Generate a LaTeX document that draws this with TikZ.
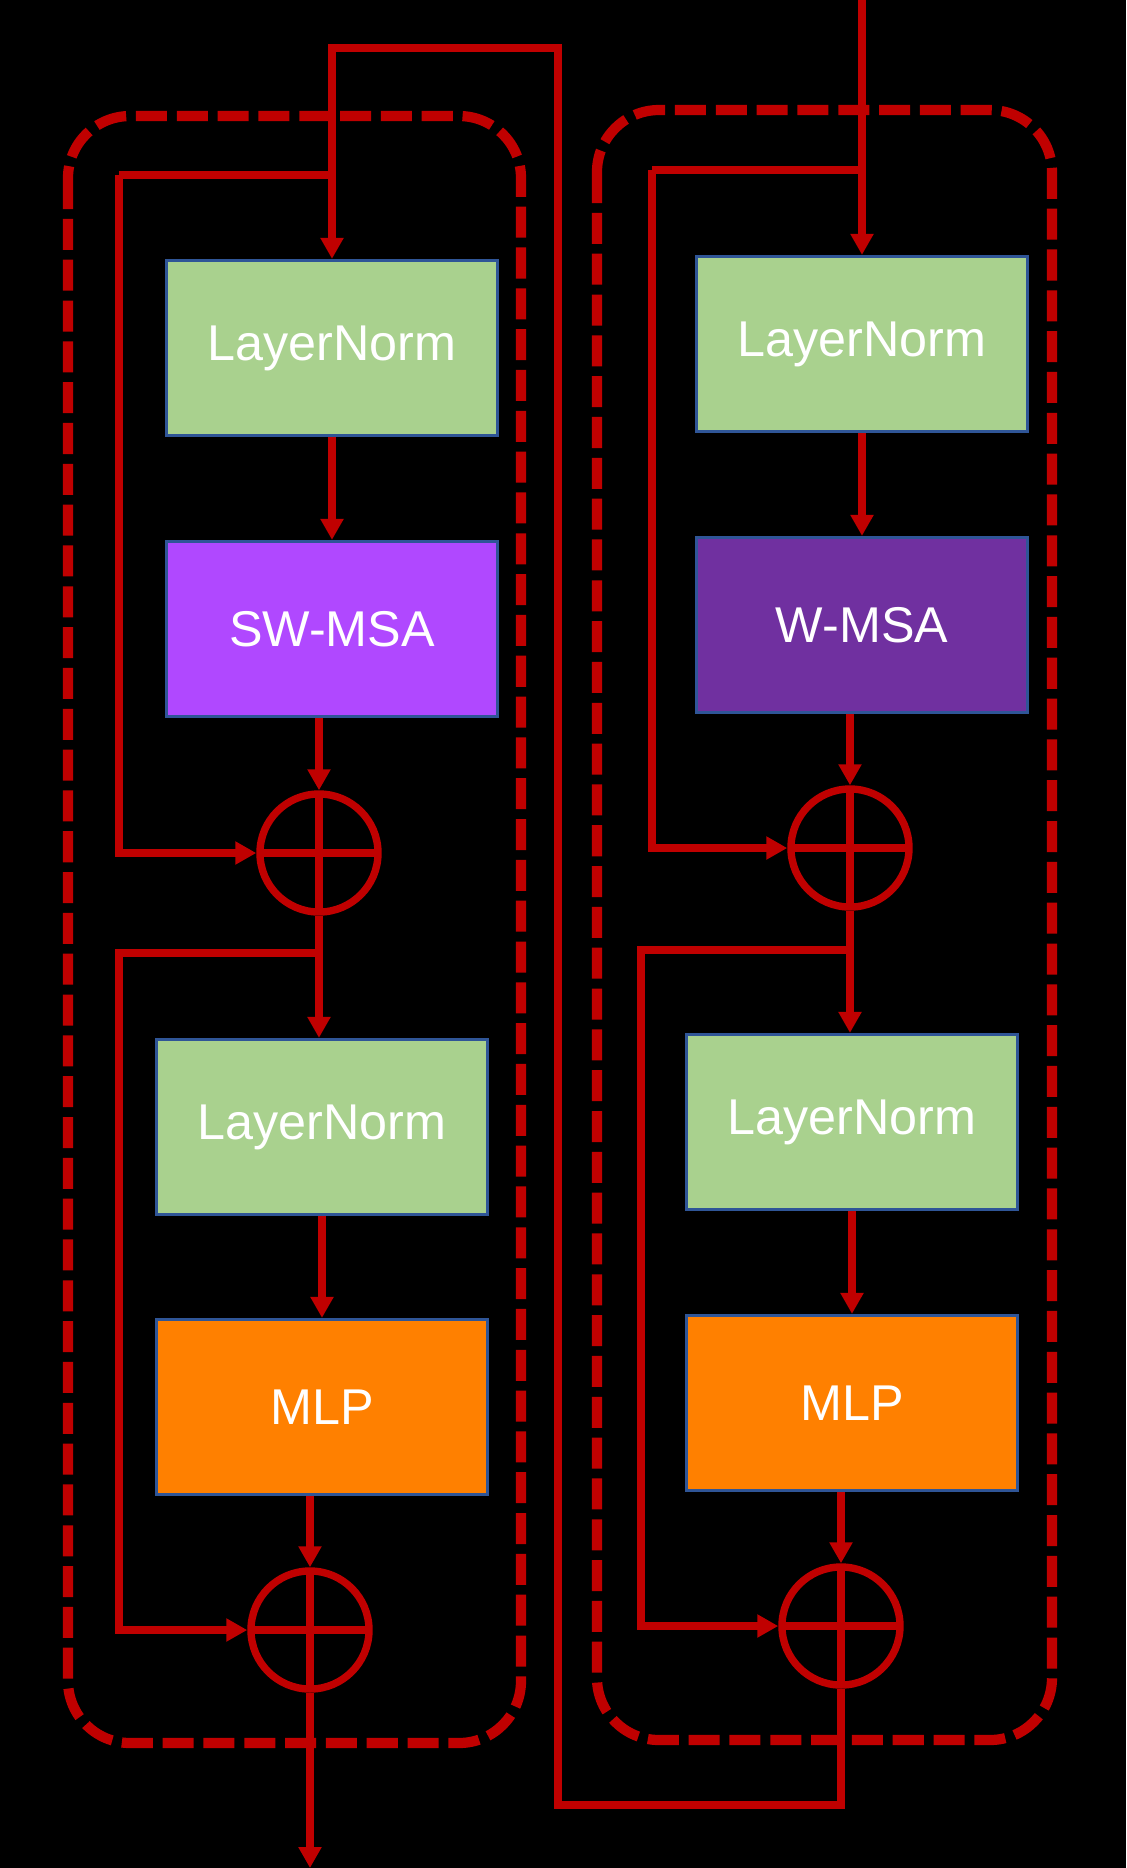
\documentclass[tikz,border=0pt]{standalone}
\usepackage{xcolor}
\usepackage{fontspec}
\setmainfont{Liberation Sans}
\usepackage{tikz}
\usetikzlibrary{arrows.meta}
\definecolor{LinkRed}{HTML}{C00000}
\definecolor{NormGreen}{HTML}{A9D18E}
\definecolor{ShiftPurple}{HTML}{B048FF}
\definecolor{WindowPurple}{HTML}{7030A0}
\definecolor{MlpOrange}{HTML}{FF8000}
\definecolor{EdgeBlue}{HTML}{2F5597}

\begin{document}
\begin{tikzpicture}[x=0.01cm,y=-0.01cm,
  blockbox/.style={draw=EdgeBlue,line width=0.9pt,minimum width=3.31cm,minimum height=1.75cm,
    inner sep=0pt,text=white,font=\fontsize{14.3}{17}\selectfont},
  addnode/.style={circle,draw=LinkRed,line width=2.1pt,minimum size=1.18cm,inner sep=0pt,
    path picture={\draw[LinkRed,line width=2.1pt]
      (path picture bounding box.north) -- (path picture bounding box.south)
      (path picture bounding box.west) -- (path picture bounding box.east);}},
  link/.style={draw=LinkRed,line width=2.1pt},
  linkarrow/.style={link,-{Triangle[length=0.21cm,width=0.22cm]}},
  blockframe/.style={draw=LinkRed,line width=2.9pt,dash pattern=on 0.31cm off 0.098cm,rounded corners=0.62cm}]
  \useasboundingbox (0,0) rectangle (1126,1868);
  \fill[black] (0,0) rectangle (1126,1868);

  % dashed block frames
  \draw[blockframe] (68,116) rectangle (521,1743);
  \draw[blockframe] (597,110) rectangle (1052,1740);

  % W-MSA block (right)
  \node[blockbox,fill=NormGreen] (lnW1) at (862,344) {LayerNorm};
  \node[blockbox,fill=WindowPurple] (wmsa) at (862,625) {W-MSA};
  \node[addnode] (addW1) at (850,848) {};
  \node[blockbox,fill=NormGreen] (lnW2) at (852,1122) {LayerNorm};
  \node[blockbox,fill=MlpOrange] (mlpW) at (852,1403) {MLP};
  \node[addnode] (addW2) at (841,1626) {};

  % SW-MSA block (left)
  \node[blockbox,fill=NormGreen] (lnS1) at (332,348) {LayerNorm};
  \node[blockbox,fill=ShiftPurple] (swmsa) at (332,629) {SW-MSA};
  \node[addnode] (addS1) at (319,853) {};
  \node[blockbox,fill=NormGreen] (lnS2) at (322,1127) {LayerNorm};
  \node[blockbox,fill=MlpOrange] (mlpS) at (322,1407) {MLP};
  \node[addnode] (addS2) at (310,1630) {};

  \coordinate (inW) at (862,0);
  \coordinate (outS) at (310,1868);

  % right column
  \draw[linkarrow] (inW) -- (lnW1.north);
  \draw[link] (lnW1.north |- 0,170) -- (652,170);
  \draw[linkarrow] (652,170) |- (addW1.west);
  \draw[linkarrow] (lnW1) -- (wmsa);
  \draw[linkarrow] (wmsa.south -| addW1) -- (addW1.north);
  \draw[linkarrow] (addW1.south) -- (addW1.south |- lnW2.north);
  \draw[linkarrow] (addW1.south |- 0,950) -- (641,950) |- (addW2.west);
  \draw[linkarrow] (lnW2) -- (mlpW);
  \draw[linkarrow] (mlpW.south -| addW2) -- (addW2.north);

  % hand-over from right block to left block
  \draw[linkarrow] (addW2.south) -- (addW2.south |- 0,1805) -- (558,1805) |- (lnS1.north |- 0,48) -- (lnS1.north);

  % left column
  \draw[link] (lnS1.north |- 0,175) -- (119,175);
  \draw[linkarrow] (119,175) |- (addS1.west);
  \draw[linkarrow] (lnS1) -- (swmsa);
  \draw[linkarrow] (swmsa.south -| addS1) -- (addS1.north);
  \draw[linkarrow] (addS1.south) -- (addS1.south |- lnS2.north);
  \draw[linkarrow] (addS1.south |- 0,953) -- (119,953) |- (addS2.west);
  \draw[linkarrow] (lnS2) -- (mlpS);
  \draw[linkarrow] (mlpS.south -| addS2) -- (addS2.north);
  \draw[linkarrow] (addS2.south) -- (outS);
\end{tikzpicture}
\end{document}
